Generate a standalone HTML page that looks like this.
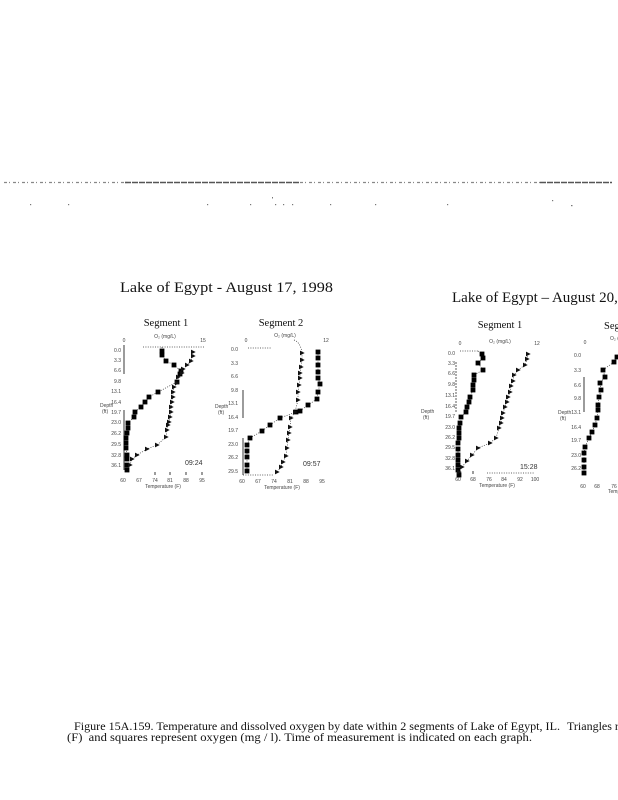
<!DOCTYPE html>
<html><head><meta charset="utf-8"><style>
html,body{margin:0;padding:0;background:#fff;}
svg{display:block;}
.t{font-family:"Liberation Serif",serif;fill:#111;}
.s{font-family:"Liberation Sans",sans-serif;font-size:5px;fill:#444;}
.tm{font-family:"Liberation Sans",sans-serif;font-size:7px;fill:#333;}
.ln{fill:none;stroke:#333;stroke-width:0.7;stroke-dasharray:1 1.4;}
.ax{stroke:#222;stroke-width:0.9;}
</style></head><body>
<svg width="618" height="800" viewBox="0 0 618 800" xmlns="http://www.w3.org/2000/svg">
<defs>
<rect id="q" x="-2.4" y="-2.4" width="4.8" height="4.8" fill="#000"/>
<path id="r" d="M-2 -2.4 L-2 2.4 L2.7 0 Z" fill="#111"/>
</defs>
<rect width="618" height="800" fill="#fff"/>

<!-- scan noise lines -->
<line x1="4" y1="182.5" x2="125" y2="182.5" stroke="#888" stroke-width="1.3" stroke-dasharray="3 2 1 3"/>
<line x1="125" y1="182.5" x2="300" y2="182.5" stroke="#555" stroke-width="1.6" stroke-dasharray="6 1"/>
<line x1="300" y1="182.5" x2="540" y2="182.5" stroke="#888" stroke-width="1.3" stroke-dasharray="3 2 1 3"/>
<line x1="540" y1="182.5" x2="612" y2="182.5" stroke="#555" stroke-width="1.6" stroke-dasharray="6 1"/>
<g fill="#777">
<rect x="30" y="204" width="1.2" height="1.2"/><rect x="68" y="204" width="1.2" height="1.2"/>
<rect x="207" y="204" width="1.2" height="1.2"/><rect x="250" y="204" width="1.2" height="1.2"/>
<rect x="272" y="197" width="1" height="1.5"/><rect x="275" y="204" width="1.2" height="1.2"/>
<rect x="283" y="204" width="1.2" height="1.2"/><rect x="292" y="204" width="1.2" height="1.2"/>
<rect x="330" y="204" width="1.2" height="1.2"/><rect x="375" y="204" width="1.2" height="1.2"/>
<rect x="447" y="204" width="1.2" height="1.2"/><rect x="552" y="200" width="1.2" height="1.2"/>
<rect x="571" y="205" width="1.5" height="1.2"/>
</g>

<!-- Titles -->
<text class="t" x="120" y="292" font-size="15" textLength="213" lengthAdjust="spacingAndGlyphs">Lake of Egypt -  August 17, 1998</text>
<text class="t" x="452" y="302" font-size="15">Lake of Egypt – August 20, 1998</text>

<!-- ===== Chart 1 ===== -->
<text class="t" x="166" y="326" font-size="10.5" text-anchor="middle">Segment 1</text>
<text class="s" x="165" y="338" text-anchor="middle">O₂ (mg/L)</text>
<text class="s" x="124" y="342" text-anchor="middle">0</text>
<text class="s" x="203" y="342" text-anchor="middle">15</text>
<line class="ln" x1="143" y1="347" x2="205" y2="347"/>
<line class="ax" x1="124" y1="345" x2="124" y2="374"/>
<line class="ax" x1="124" y1="410" x2="124" y2="470"/>
<g class="s" text-anchor="end">
<text x="121" y="352">0.0</text><text x="121" y="362">3.3</text><text x="121" y="372">6.6</text>
<text x="121" y="383">9.8</text><text x="121" y="393">13.1</text><text x="121" y="404">16.4</text>
<text x="121" y="414">19.7</text><text x="121" y="424">23.0</text><text x="121" y="435">26.2</text>
<text x="121" y="446">29.5</text><text x="121" y="457">32.8</text><text x="121" y="467">36.1</text>
</g>
<text class="s" x="100" y="407">Depth</text><text class="s" x="102" y="413">(ft)</text>
<g class="ax"><line x1="155" y1="472" x2="155" y2="475"/><line x1="170" y1="472" x2="170" y2="475"/><line x1="186" y1="472" x2="186" y2="475"/><line x1="202" y1="472" x2="202" y2="475"/></g>
<g class="s" text-anchor="middle">
<text x="123" y="482">60</text><text x="139" y="482">67</text><text x="155" y="482">74</text>
<text x="170" y="482">81</text><text x="186" y="482">88</text><text x="202" y="482">95</text>
<text x="163" y="488">Temperature (F)</text>
</g>
<text class="tm" x="185" y="465">09:24</text>
<polyline class="ln" points="162,347 162,351 162,355 166,361 174,365 181,371 180,373 177,382 158,392 149,397 145,402 141,407 135,412 134,417 128,423 128,428 127,433 126,438 126,443 126,448 127,455 127,459 127,465 127,470"/>
<polyline class="ln" points="193,352 193,355 191,361 187,365 183,369 182,373 178,377 177,383 174,387 173,392 173,397 172,402 171,407 171,412 170,417 169,422 168,425 167,430 166,437 157,445 147,449 137,455 132,459 130,465"/>
<g>
<use href="#q" x="162" y="351"/><use href="#q" x="162" y="355"/><use href="#q" x="166" y="361"/><use href="#q" x="174" y="365"/>
<use href="#q" x="181" y="371"/><use href="#q" x="180" y="374"/><use href="#q" x="177" y="382"/><use href="#q" x="158" y="392"/>
<use href="#q" x="149" y="397"/><use href="#q" x="145" y="402"/><use href="#q" x="141" y="407"/><use href="#q" x="135" y="412"/>
<use href="#q" x="134" y="417"/><use href="#q" x="128" y="423"/><use href="#q" x="128" y="428"/><use href="#q" x="127" y="433"/>
<use href="#q" x="126" y="438"/><use href="#q" x="126" y="443"/><use href="#q" x="126" y="448"/><use href="#q" x="127" y="455"/>
<use href="#q" x="127" y="459"/><use href="#q" x="127" y="465"/><use href="#q" x="127" y="470"/>
</g>
<g>
<use href="#r" x="193" y="352"/><use href="#r" x="193" y="356"/><use href="#r" x="191" y="361"/><use href="#r" x="187" y="365"/>
<use href="#r" x="183" y="369"/><use href="#r" x="182" y="373"/><use href="#r" x="178" y="377"/><use href="#r" x="177" y="383"/>
<use href="#r" x="174" y="387"/><use href="#r" x="173" y="392"/><use href="#r" x="173" y="397"/><use href="#r" x="172" y="402"/>
<use href="#r" x="171" y="407"/><use href="#r" x="171" y="412"/><use href="#r" x="170" y="417"/><use href="#r" x="169" y="422"/>
<use href="#r" x="168" y="425"/><use href="#r" x="167" y="430"/><use href="#r" x="166" y="437"/><use href="#r" x="157" y="445"/>
<use href="#r" x="147" y="449"/><use href="#r" x="137" y="455"/><use href="#r" x="132" y="459"/><use href="#r" x="130" y="465"/>
</g>

<!-- ===== Chart 2 ===== -->
<text class="t" x="281" y="326" font-size="10.5" text-anchor="middle">Segment 2</text>
<text class="s" x="285" y="337" text-anchor="middle">O₂ (mg/L)</text>
<text class="s" x="246" y="342" text-anchor="middle">0</text>
<text class="s" x="326" y="342" text-anchor="middle">12</text>
<line class="ln" x1="248" y1="348" x2="272" y2="348"/>
<path class="ln" d="M294 340 Q300 342 302 352"/>
<line class="ax" x1="243" y1="390" x2="243" y2="418"/>
<line class="ax" x1="243" y1="438" x2="243" y2="475"/>
<line class="ln" x1="243" y1="475" x2="273" y2="475"/>
<g class="s" text-anchor="end">
<text x="238" y="351">0.0</text><text x="238" y="365">3.3</text><text x="238" y="378">6.6</text>
<text x="238" y="392">9.8</text><text x="238" y="405">13.1</text><text x="238" y="419">16.4</text>
<text x="238" y="432">19.7</text><text x="238" y="446">23.0</text><text x="238" y="459">26.2</text>
<text x="238" y="473">29.5</text>
</g>
<text class="s" x="215" y="408">Depth</text><text class="s" x="218" y="414">(ft)</text>
<g class="s" text-anchor="middle">
<text x="242" y="483">60</text><text x="258" y="483">67</text><text x="274" y="483">74</text>
<text x="290" y="483">81</text><text x="306" y="483">88</text><text x="322" y="483">95</text>
<text x="282" y="489">Temperature (F)</text>
</g>
<text class="tm" x="303" y="466">09:57</text>
<polyline class="ln" points="318,352 318,358 318,365 318,372 318,378 320,384 318,392 317,399 308,405 300,411 296,412 280,418 270,425 262,431 250,438 247,445 247,451 247,457 247,465 247,471"/>
<polyline class="ln" points="302,353 302,360 301,367 300,373 300,378 299,385 298,392 298,400 295,412 291,418 290,427 289,433 288,440 287,448 286,456 283,462 281,467 277,472"/>
<g>
<use href="#q" x="318" y="352"/><use href="#q" x="318" y="358"/><use href="#q" x="318" y="365"/><use href="#q" x="318" y="372"/>
<use href="#q" x="318" y="378"/><use href="#q" x="320" y="384"/><use href="#q" x="318" y="392"/><use href="#q" x="317" y="399"/>
<use href="#q" x="308" y="405"/><use href="#q" x="300" y="411"/><use href="#q" x="296" y="412"/><use href="#q" x="280" y="418"/>
<use href="#q" x="270" y="425"/><use href="#q" x="262" y="431"/><use href="#q" x="250" y="438"/><use href="#q" x="247" y="445"/>
<use href="#q" x="247" y="451"/><use href="#q" x="247" y="457"/><use href="#q" x="247" y="465"/><use href="#q" x="247" y="471"/>
</g>
<g>
<use href="#r" x="302" y="353"/><use href="#r" x="302" y="360"/><use href="#r" x="301" y="367"/><use href="#r" x="300" y="373"/>
<use href="#r" x="300" y="378"/><use href="#r" x="299" y="385"/><use href="#r" x="298" y="392"/><use href="#r" x="298" y="400"/>
<use href="#r" x="295" y="412"/><use href="#r" x="291" y="418"/><use href="#r" x="290" y="427"/><use href="#r" x="289" y="433"/>
<use href="#r" x="288" y="440"/><use href="#r" x="287" y="448"/><use href="#r" x="286" y="456"/><use href="#r" x="283" y="462"/>
<use href="#r" x="281" y="467"/><use href="#r" x="277" y="472"/>
</g>

<!-- ===== Chart 3 ===== -->
<text class="t" x="500" y="328" font-size="10.5" text-anchor="middle">Segment 1</text>
<text class="s" x="500" y="343" text-anchor="middle">O₂ (mg/L)</text>
<text class="s" x="460" y="345" text-anchor="middle">0</text>
<text class="s" x="537" y="345" text-anchor="middle">12</text>
<line class="ln" x1="460" y1="351" x2="478" y2="351"/>
<line x1="456" y1="362" x2="456" y2="412" stroke="#333" stroke-width="0.8" stroke-dasharray="2 1"/>
<g class="s" text-anchor="end">
<text x="455" y="355">0.0</text><text x="455" y="365">3.3</text><text x="455" y="375">6.6</text>
<text x="455" y="386">9.8</text><text x="455" y="397">13.1</text><text x="455" y="408">16.4</text>
<text x="455" y="418">19.7</text><text x="455" y="429">23.0</text><text x="455" y="439">26.2</text>
<text x="455" y="449">29.5</text><text x="455" y="460">32.8</text><text x="455" y="470">36.1</text>
</g>
<text class="s" x="421" y="413">Depth</text><text class="s" x="423" y="419">(ft)</text>
<line class="ln" x1="487" y1="473" x2="535" y2="473"/>
<line class="ax" x1="473" y1="471" x2="473" y2="474"/>
<g class="s" text-anchor="middle">
<text x="458" y="481">60</text><text x="473" y="481">68</text><text x="489" y="481">76</text>
<text x="504" y="481">84</text><text x="520" y="481">92</text><text x="535" y="481">100</text>
<text x="497" y="487">Temperature (F)</text>
</g>
<text class="tm" x="520" y="469">15:28</text>
<polyline class="ln" points="478,351 482,354 483,358 478,363 483,370 474,375 474,380 473,385 473,390 470,397 469,402 467,407 466,412 461,417 460,423 459,428 459,433 459,438 458,443 458,449 458,455 458,460 458,465 458,470 459,475"/>
<polyline class="ln" points="528,354 527,359 525,365 518,370 514,375 513,381 511,386 510,392 508,397 507,402 505,407 503,413 502,418 501,423 499,428 496,438 490,443 478,448 472,455 467,461 462,467 459,472"/>
<g>
<use href="#q" x="482" y="354"/><use href="#q" x="483" y="358"/><use href="#q" x="478" y="363"/><use href="#q" x="483" y="370"/>
<use href="#q" x="474" y="375"/><use href="#q" x="474" y="380"/><use href="#q" x="473" y="385"/><use href="#q" x="473" y="390"/>
<use href="#q" x="470" y="397"/><use href="#q" x="469" y="402"/><use href="#q" x="467" y="407"/><use href="#q" x="466" y="412"/>
<use href="#q" x="461" y="417"/><use href="#q" x="460" y="423"/><use href="#q" x="459" y="428"/><use href="#q" x="459" y="433"/>
<use href="#q" x="459" y="438"/><use href="#q" x="458" y="443"/><use href="#q" x="458" y="449"/><use href="#q" x="458" y="455"/>
<use href="#q" x="458" y="460"/><use href="#q" x="458" y="465"/><use href="#q" x="458" y="470"/><use href="#q" x="459" y="475"/>
</g>
<g>
<use href="#r" x="528" y="354"/><use href="#r" x="527" y="359"/><use href="#r" x="525" y="365"/><use href="#r" x="518" y="370"/>
<use href="#r" x="514" y="375"/><use href="#r" x="513" y="381"/><use href="#r" x="511" y="386"/><use href="#r" x="510" y="392"/>
<use href="#r" x="508" y="397"/><use href="#r" x="507" y="402"/><use href="#r" x="505" y="407"/><use href="#r" x="503" y="413"/>
<use href="#r" x="502" y="418"/><use href="#r" x="501" y="423"/><use href="#r" x="499" y="428"/><use href="#r" x="496" y="438"/>
<use href="#r" x="490" y="443"/><use href="#r" x="478" y="448"/><use href="#r" x="472" y="455"/><use href="#r" x="467" y="461"/>
<use href="#r" x="462" y="467"/><use href="#r" x="459" y="472"/>
</g>

<!-- ===== Chart 4 (clipped) ===== -->
<text class="t" x="604" y="329" font-size="10.5">Segment 2</text>
<text class="s" x="610" y="340">O₂ (mg/L)</text>
<text class="s" x="585" y="344" text-anchor="middle">0</text>
<line class="ax" x1="584" y1="377" x2="584" y2="412"/>
<g class="s" text-anchor="end">
<text x="581" y="357">0.0</text><text x="581" y="372">3.3</text><text x="581" y="387">6.6</text>
<text x="581" y="400">9.8</text><text x="581" y="414">13.1</text><text x="581" y="429">16.4</text>
<text x="581" y="442">19.7</text><text x="581" y="457">23.0</text><text x="581" y="470">26.2</text>
</g>
<text class="s" x="558" y="414">Depth</text><text class="s" x="560" y="420">(ft)</text>
<g class="s" text-anchor="middle">
<text x="583" y="488">60</text><text x="597" y="488">68</text><text x="614" y="488">76</text>
</g>
<text class="s" x="608" y="493">Temperature (F)</text>
<polyline class="ln" points="620,352 617,357 614,362 603,370 605,377 600,383 601,390 599,397 598,405 598,410 597,418 595,425 592,432 589,438 585,447 584,453 584,460 584,467 584,473"/>
<g>
<use href="#q" x="617" y="357"/><use href="#q" x="614" y="362"/><use href="#q" x="603" y="370"/><use href="#q" x="605" y="377"/>
<use href="#q" x="600" y="383"/><use href="#q" x="601" y="390"/><use href="#q" x="599" y="397"/><use href="#q" x="598" y="405"/>
<use href="#q" x="598" y="410"/><use href="#q" x="597" y="418"/><use href="#q" x="595" y="425"/><use href="#q" x="592" y="432"/>
<use href="#q" x="589" y="438"/><use href="#q" x="585" y="447"/><use href="#q" x="584" y="453"/><use href="#q" x="584" y="460"/>
<use href="#q" x="584" y="467"/><use href="#q" x="584" y="473"/>
</g>

<!-- Caption -->
<text class="t" x="74" y="730" font-size="12" textLength="486" lengthAdjust="spacingAndGlyphs">Figure 15A.159. Temperature and dissolved oxygen by date within 2 segments of Lake of Egypt, IL.</text>
<text class="t" x="567" y="730" font-size="12">Triangles represent temperature</text>
<text class="t" x="67" y="741" font-size="12" textLength="465" lengthAdjust="spacingAndGlyphs" xml:space="preserve">(F)  and squares represent oxygen (mg / l). Time of measurement is indicated on each graph.</text>
</svg>
</body></html>
